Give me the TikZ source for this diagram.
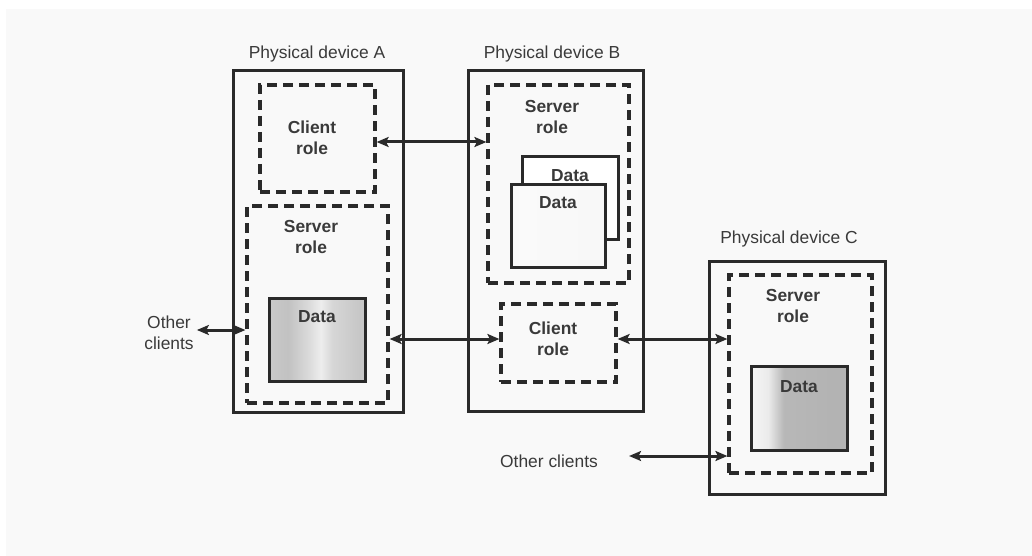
\documentclass[tikz,border=0pt]{standalone}
\usepackage{fontspec}
\setmainfont{Liberation Sans}
\usetikzlibrary{arrows.meta}
\definecolor{ink}{HTML}{2A2A2A}
\definecolor{txt}{HTML}{3A3A3A}
\definecolor{paper}{HTML}{F9F9F9}
\pgfdeclarehorizontalshading{dataAshade}{100bp}{color(0bp)=(black!24); color(20bp)=(black!20); color(35bp)=(black!24); color(46bp)=(black!14); color(52bp)=(black!7); color(58bp)=(black!16); color(72bp)=(black!22); color(85bp)=(black!18); color(100bp)=(black!24)}
\pgfdeclarehorizontalshading{dataCshade}{100bp}{color(0bp)=(black!22); color(18bp)=(black!15); color(26bp)=(black!4); color(34bp)=(black!8); color(42bp)=(black!28); color(70bp)=(black!30); color(100bp)=(black!26)}
\pgfdeclarehorizontalshading{dataBshade}{100bp}{color(0bp)=(black!14); color(10bp)=(black!5); color(30bp)=(black!2); color(85bp)=(black!3); color(100bp)=(black!9)}
\tikzset{
  txtfont/.style={font=\fontsize{17.4}{20.5}\selectfont, text=txt},
  device/.style={draw=ink, line width=3pt, minimum width=#1, inner sep=0pt},
  rolebox/.style={draw=ink, line width=3.2pt, dash pattern=on 10pt off 6pt, inner sep=0pt},
  databox/.style={draw=ink, line width=3pt, inner sep=0pt},
  lbl/.style={txtfont, align=center, inner sep=0pt},
  bold/.style={lbl, font=\fontsize{17.4}{20.5}\selectfont\bfseries},
  link/.style={draw=ink, line width=3pt, {Stealth[length=12pt,width=10pt,inset=2.5pt]}-{Stealth[length=12pt,width=10pt,inset=2.5pt]}}
}
\begin{document}
\begin{tikzpicture}[x=1pt, y=-1pt]
  \useasboundingbox (0,0) rectangle (1032,556);
  \fill[white] (0,0) rectangle (1032,556);
  \fill[paper] (6,9) rectangle (1032,556);

  % physical devices
  \node[device=170pt, minimum height=341pt] (devA) at (318,241.5) {};
  \node[device=175pt, minimum height=340pt] (devB) at (555.5,241) {};
  \node[device=176pt, minimum height=233pt] (devC) at (797,377.5) {};
  \node[lbl] (labA) at (317,54) {Physical device A};
  \node[lbl] (labB) at (552,54) {Physical device B};
  \node[lbl] (labC) at (789,239) {Physical device C};

  % device A
  \node[rolebox, minimum width=115pt, minimum height=107pt] (aclient) at (317.5,138.5) {};
  \node[bold] (aclienttxt) at (312,138) {Client\\role};
  \node[rolebox, minimum width=141pt, minimum height=197pt] (aserver) at (317.5,304.5) {};
  \node[bold] (aservertxt) at (311,237) {Server\\role};
  \node[databox, shading=dataAshade, minimum width=96pt, minimum height=83pt] (adata) at (317,339.5) {};
  \node[bold] (adatatxt) at (317,317) {Data};

  % device B
  \node[rolebox, minimum width=141pt, minimum height=198pt] (bserver) at (558.5,184) {};
  \node[bold] (bservertxt) at (552,117) {Server\\role};
  \node[databox, fill=white, minimum width=96pt, minimum height=82pt] (bdataback) at (570,198) {};
  \node[bold] (bdatabacktxt) at (570,176) {Data};
  \node[databox, shading=dataBshade, minimum width=94pt, minimum height=83pt] (bdatafront) at (558,225.5) {};
  \node[bold] (bdatafronttxt) at (558,203) {Data};
  \node[rolebox, minimum width=115pt, minimum height=78pt] (bclient) at (558.5,343) {};
  \node[bold] (bclienttxt) at (553,339) {Client\\role};

  % device C
  \node[rolebox, minimum width=143pt, minimum height=198pt] (cserver) at (800.5,374) {};
  \node[bold] (cservertxt) at (793,306) {Server\\role};
  \node[databox, shading=dataCshade, minimum width=96pt, minimum height=84pt] (cdata) at (799,408) {};
  \node[bold] (cdatatxt) at (799,387) {Data};

  % other clients
  \node[lbl, inner sep=3pt] (othA) at (169,333) {Other\\clients};
  \node[lbl, inner sep=3pt] (othC) at (549,461) {Other clients};

  % connections
  \coordinate (r1) at ([yshift=-3.5pt]aclient.east);
  \draw[link] (r1) -- (r1 -| bserver.west);
  \coordinate (r2) at ([yshift=4pt]bclient.west);
  \draw[link] (r2 -| aserver.east) -- (r2);
  \draw[link] (r2 -| bclient.east) -- (r2 -| cserver.west);
  \coordinate (r3) at ([yshift=3pt]othA.east);
  \draw[link] (r3) -- (r3 -| aserver.west);
  \coordinate (r4) at ([xshift=28pt,yshift=5pt]othC.east);
  \draw[link] (r4) -- (r4 -| cserver.west);
\end{tikzpicture}
\end{document}
